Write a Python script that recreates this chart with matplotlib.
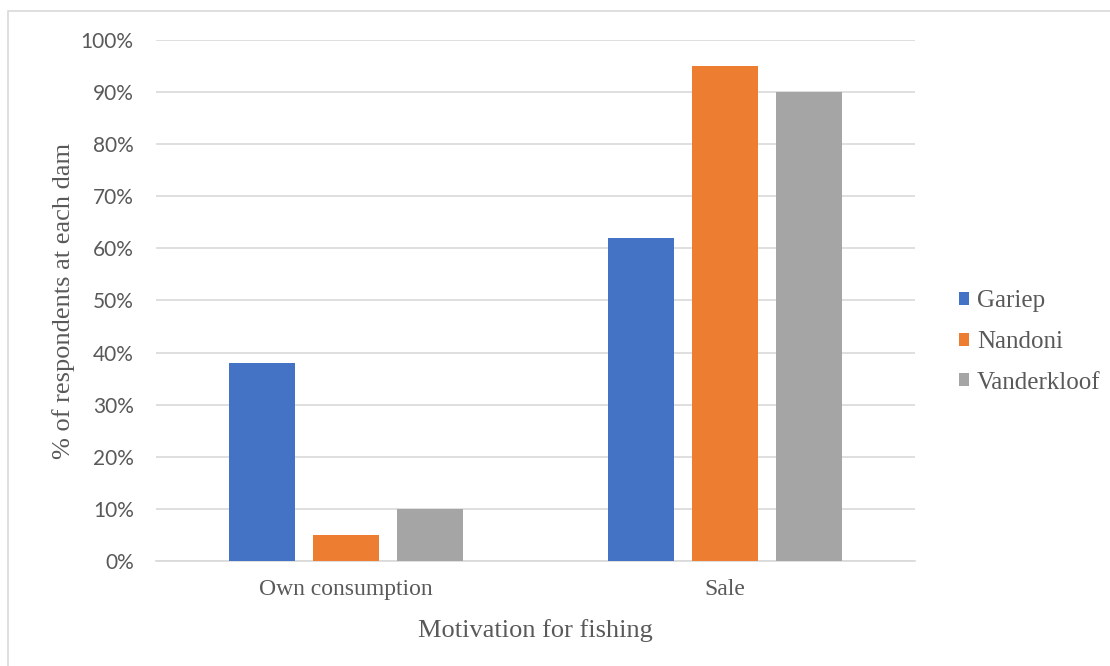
import numpy as np
import matplotlib.pyplot as plt
from matplotlib.patches import Rectangle

categories = ["Own consumption", "Sale"]
dams = ["Gariep", "Nandoni", "Vanderkloof"]
gariep = [38, 62]
nandoni = [5, 95]
vanderkloof = [10, 90]
colors = ["#4472c4", "#ed7d31", "#a5a5a5"]
yticks = [0, 10, 20, 30, 40, 50, 60, 70, 80, 90, 100]

serif = "Liberation Serif"
grey = "#595959"

fig = plt.figure(figsize=(11.1, 6.66), dpi=100)
ax = fig.add_axes([0.1405, 0.1577, 0.6838, 0.7823])

# light frame round the chart area
fig.patches.append(Rectangle((0.0072, -0.1), 1.5, 1.0835, transform=fig.transFigure,
                             fill=False, edgecolor="#d9d9d9", linewidth=1.2))

x = np.arange(len(categories))
width = 0.1737
step = 0.221
for i, (name, vals) in enumerate(zip(dams, [gariep, nandoni, vanderkloof])):
    ax.bar(x + (i - 1) * step, vals, width, color=colors[i], label=name, zorder=3)

ax.set_xlim(-0.5, 1.5)
ax.set_ylim(0, 100)
ax.set_yticks(yticks)
ax.set_yticklabels([f"{t}%" for t in yticks], fontsize=15, color=grey, family="Lato")
ax.set_xticks(x)
ax.set_xticklabels(categories, fontsize=17, color=grey, family=serif)
ax.tick_params(length=0)
ax.tick_params(axis="x", pad=13)
ax.tick_params(axis="y", pad=16)
ax.grid(axis="y", color="#d9d9d9", linewidth=1.2, zorder=0)
for s in ["top", "right", "left"]:
    ax.spines[s].set_visible(False)
ax.spines["bottom"].set_color("#d9d9d9")
ax.spines["bottom"].set_linewidth(1.2)

ax.set_xlabel("Motivation for fishing", fontsize=19, color=grey, family=serif, labelpad=14)
ax.set_ylabel("% of respondents at each dam", fontsize=19, color=grey, family=serif, labelpad=4)

leg = ax.legend(loc="center left", bbox_to_anchor=(1.028, 0.42), frameon=False,
                prop={"family": serif, "size": 18}, handlelength=0.42, handleheight=0.42,
                handletextpad=0.3, labelspacing=0.75)
for t in leg.get_texts():
    t.set_color(grey)

fig.savefig("out.png", dpi=100)
